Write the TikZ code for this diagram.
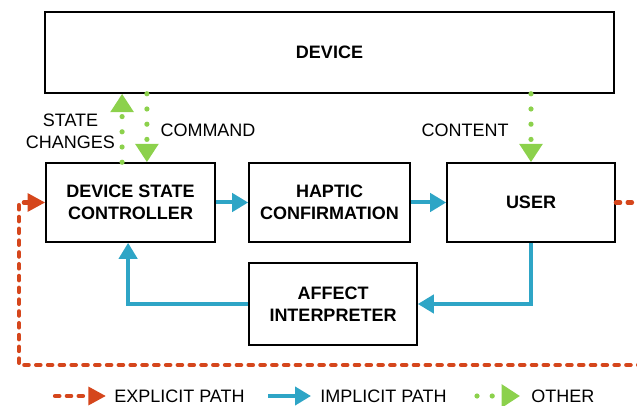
\documentclass[tikz,border=0pt]{standalone}
\usepackage{fontspec}
\setmainfont{Liberation Sans}
\usepackage{xcolor}
\usetikzlibrary{arrows.meta,calc}
\definecolor{expl}{HTML}{D5461C}
\definecolor{impl}{HTML}{2EA5C6}
\definecolor{oth}{HTML}{8CD14C}
\tikzset{
  blk/.style={draw,line width=1.1pt,align=center,font=\fontsize{12.8}{15.6}\selectfont\bfseries,inner sep=0pt},
  lbl/.style={align=center,font=\fontsize{12.8}{15.6}\selectfont},
  expath/.style={expl,line width=0.105cm,line cap=round,dash pattern=on 0.11cm off 0.185cm,-{Triangle[length=0.44cm,width=0.44cm,line cap=butt]}},
  impath/.style={impl,line width=0.1cm,-{Triangle[length=0.4cm,width=0.45cm]}},
  othpath/.style={oth,line width=0.13cm,line cap=round,dash pattern=on 0pt off 0.38cm,-{Triangle[length=0.46cm,width=0.56cm,line cap=butt]}}
}
\begin{document}
\begin{tikzpicture}[x=0.025cm,y=-0.025cm]
\useasboundingbox (0,0) rectangle (637,406);
\clip (0,0) rectangle (637,406);
% boxes
\node[blk,minimum width=14.225cm,minimum height=2.025cm] (dev) at (329.5,52.5) {DEVICE};
\node[blk,minimum width=4.225cm,minimum height=1.975cm] (ctrl) at (130.5,202.5) {DEVICE STATE\\CONTROLLER};
\node[blk,minimum width=4.025cm,minimum height=1.975cm] (hap) at (329.5,202.5) {HAPTIC\\CONFIRMATION};
\node[blk,minimum width=4.2cm,minimum height=1.975cm] (user) at (531,202.5) {USER};
\node[blk,minimum width=4.2cm,minimum height=2.05cm] (aff) at (333,304) {AFFECT\\INTERPRETER};
% labels
\node[lbl] (chg) at (70.5,131) {STATE\\CHANGES};
\node[lbl] (cmd) at (208,130) {COMMAND};
\node[lbl] (cnt) at (465,130) {CONTENT};
% implicit path
\draw[impath] (ctrl) -- (hap);
\draw[impath] (hap) -- (user);
\draw[impath] (user.south) |- (aff.east);
\draw[impath] (aff.west) -| ([xshift=-0.06cm]ctrl.south);
% other
\draw[othpath] ([xshift=-0.21cm]ctrl.north) -- ([xshift=-0.21cm]ctrl.north |- dev.south);
\draw[othpath] ([xshift=0.41cm]ctrl.north |- dev.south) -- ([xshift=0.41cm]ctrl.north);
\draw[othpath] (user.north |- dev.south) -- (user.north);
% explicit path loops round the outside
\coordinate (far) at (660,365);
\coordinate (loop) at (19,365);
\draw[expath] (user.east) -| (far) -- (loop) |- (ctrl.west);
% legend
\coordinate (ex0) at (55,396); \coordinate (ex1) at (106,396);
\coordinate (im0) at (268,396); \coordinate (im1) at (311,396);
\coordinate (ot0) at (477,396); \coordinate (ot1) at (520,396);
\draw[expath] (ex0) -- (ex1);
\draw[impath] (im0) -- (im1);
\draw[othpath] (ot0) -- (ot1);
\node[lbl,anchor=west,inner sep=0pt] (exl) at (114,396) {EXPLICIT PATH};
\node[lbl,anchor=west,inner sep=0pt] (iml) at (320,396) {IMPLICIT PATH};
\node[lbl,anchor=west,inner sep=0pt] (otl) at (531,396) {OTHER};
\end{tikzpicture}
\end{document}
